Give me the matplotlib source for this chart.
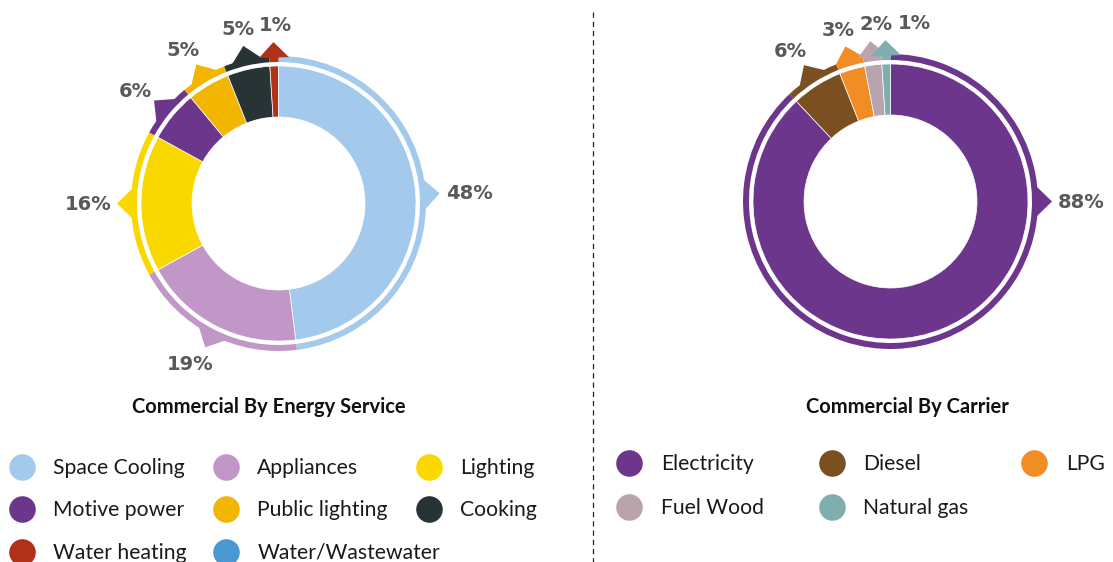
import matplotlib
matplotlib.use("Agg")
import matplotlib.pyplot as plt
from matplotlib.patches import Polygon
import numpy as np

# ---- data -------------------------------------------------------------
service_labels = ["Space Cooling", "Appliances", "Lighting", "Motive power",
                  "Public lighting", "Cooking", "Water heating", "Water/Wastewater"]
service_values = [48, 19, 16, 6, 5, 5, 1, 0]
service_colors = ["#A3CAEC", "#C197C8", "#F9D800", "#6C368C",
                  "#F2B600", "#283335", "#B03018", "#4A98D2"]

carrier_labels = ["Electricity", "Diesel", "LPG", "Fuel Wood", "Natural gas"]
carrier_values = [88, 6, 3, 2, 1]
carrier_colors = ["#6C368C", "#7A5020", "#F28C24", "#B9A4AE", "#7FAEAE"]

# ---- canvas (1 data unit = 1 pixel) -----------------------------------
W, H = 1113, 562
fig = plt.figure(figsize=(W / 100, H / 100), dpi=100)
ax = fig.add_axes([0, 0, 1, 1])

R_HOLE = 86.5
R_WEDGE = 137.5
RING_IN, RING_OUT = 141.5, 147.5
TIP = 161.5
HALF_BASE = 15
PCT_COLOR = "#58595B"
TEXT_FONT = ["Lato", "DejaVu Sans"]


def up(y):
    return H - y


def donut(cx, cy, values, colors, callout_at=None):
    cy = up(cy)
    c = np.array([cx, cy])
    ax.pie(values, colors=colors, startangle=90, counterclock=False,
           radius=R_WEDGE, center=(cx, cy),
           wedgeprops=dict(width=R_WEDGE - R_HOLE, edgecolor="white", linewidth=0.5))
    ring, _ = ax.pie(values, colors=colors, startangle=90, counterclock=False,
                     radius=RING_OUT, center=(cx, cy),
                     wedgeprops=dict(width=RING_OUT - RING_IN, linewidth=0))
    placed = []
    for i, (w, v, col) in enumerate(zip(ring, values, colors)):
        if v <= 0:
            continue
        mid = (w.theta1 + w.theta2) / 2
        if callout_at and i in callout_at:
            mid = callout_at[i]
        a = np.deg2rad(mid)
        d = np.array([np.cos(a), np.sin(a)])
        t = np.array([-np.sin(a), np.cos(a)])
        base = c + d * (RING_OUT - 1.5)
        pts = [base + t * HALF_BASE, c + d * TIP, base - t * HALF_BASE]
        ax.add_patch(Polygon(pts, closed=True, facecolor=col, edgecolor="none"))

        # percentage label, pushed outward from the pointer tip
        txt = f"{v}%"
        tw, th = 15.5 * len(txt), 15
        p = c + d * (TIP + 6 + 5 * abs(d[1])) + np.array([d[0] * tw / 2, d[1] * th / 2])
        # keep neighbouring labels from colliding (shift along reading direction)
        if placed:
            px, py, pw = placed[-1]
            need = (pw + tw) / 2 + 7
            if abs(p[1] - py) < th and abs(p[0] - px) < need:
                p[0] = px + need
        placed.append((p[0], p[1], tw))
        ax.text(p[0], p[1] - 7, txt, ha="center", va="baseline",
                fontsize=14, fontweight="bold", color=PCT_COLOR,
                family="DejaVu Sans")


donut(278.5, 203.5, service_values, service_colors)
donut(890.5, 201.5, carrier_values, carrier_colors, callout_at={0: 0.0})

# ---- titles -------------------------------------------------------------
ax.text(269, up(413), "Commercial By Energy Service", ha="center", va="baseline",
        fontsize=14.5, fontweight="bold", color="#111111", family=TEXT_FONT)
ax.text(907.5, up(413), "Commercial By Carrier", ha="center", va="baseline",
        fontsize=14.5, fontweight="bold", color="#111111", family=TEXT_FONT)

# ---- divider ------------------------------------------------------------
ax.plot([592.5, 592.5], [up(12), up(562)], color="#222222", lw=0.9,
        dashes=(4.2, 3.2))


# ---- legends ------------------------------------------------------------
def legend(labels, colors, dot_x, text_x, rows):
    for k, (lab, col) in enumerate(zip(labels, colors)):
        r, cidx = divmod(k, 3)
        y = rows[r]
        ax.scatter([dot_x[cidx]], [up(y)], s=366, color=col, linewidths=0, zorder=3)
        ax.text(text_x[cidx], up(y + 7.2), lab, ha="left", va="baseline",
                fontsize=15.2, color="#1A1A1A", family=TEXT_FONT)


legend(service_labels, service_colors, [22, 226, 428.5], [53.3, 257.3, 460],
       [466.7, 509.3, 551.7])
legend(carrier_labels, carrier_colors, [629.3, 831.7, 1034], [661, 863.3, 1065.7],
       [463.3, 506.7])

ax.set_xlim(0, W)
ax.set_ylim(0, H)
ax.set_aspect("auto")
ax.axis("off")
fig.savefig("out.png", dpi=100)
